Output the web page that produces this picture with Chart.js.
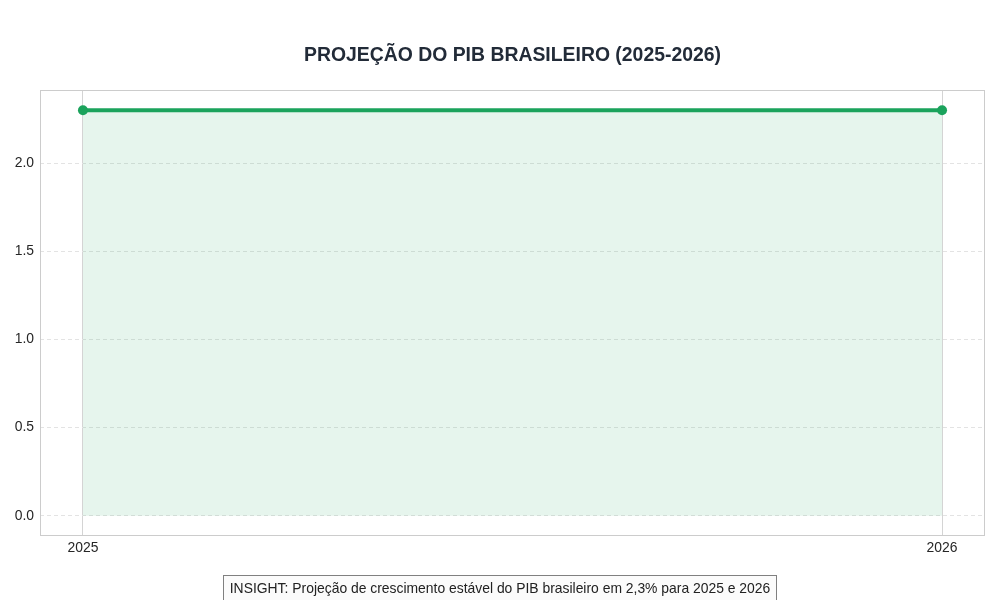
<!DOCTYPE html>
<html>
<head>
<meta charset="utf-8">
<script src="https://cdn.jsdelivr.net/npm/chart.js@4.4.1/dist/chart.umd.min.js"></script>
<style>
html,body{margin:0;padding:0;background:#fff;}
#wrap{width:1000px;height:600px;position:relative;}
</style>
</head>
<body>
<div id="wrap"><canvas id="c" width="1000" height="600"></canvas></div>
<script>
const years = [2025, 2026];
const gdpGrowth = [2.3, 2.3];
const yTicks = [0, 0.5, 1.0, 1.5, 2.0];
const titleText = 'PROJEÇÃO DO PIB BRASILEIRO (2025-2026)';
const insightText = 'INSIGHT: Projeção de crescimento estável do PIB brasileiro em 2,3% para 2025 e 2026';

const FONT = '"Liberation Sans", Arial, sans-serif';
const GREEN = '#1ba35c';

const decor = {
  id: 'decor',
  beforeDraw(chart) {
    const ctx = chart.ctx;
    ctx.save();
    ctx.fillStyle = '#fff';
    ctx.fillRect(0, 0, chart.width, chart.height);
    ctx.restore();
  },
  afterDraw(chart) {
    const ctx = chart.ctx;
    const a = chart.chartArea;
    ctx.save();
    ctx.strokeStyle = '#cccccc';
    ctx.lineWidth = 1;
    ctx.strokeRect(Math.round(a.left) + 0.5, Math.round(a.top) + 0.5, Math.round(a.right - a.left) - 1, Math.round(a.bottom - a.top) - 1);
    // title
    ctx.fillStyle = '#222b38';
    ctx.font = 'bold 19.4px ' + FONT;
    ctx.textAlign = 'center';
    ctx.textBaseline = 'middle';
    ctx.fillText(titleText, 512.5, 56);
    // insight box
    ctx.font = '13.9px ' + FONT;
    const w = ctx.measureText(insightText).width;
    const cx = 500, cy = 589;
    const bw = w + 13, bh = 26;
    ctx.fillStyle = '#fbfbfb';
    ctx.fillRect(Math.round(cx - bw / 2) + 0.5, 575.5, Math.round(bw), bh);
    ctx.strokeStyle = '#808080';
    ctx.strokeRect(Math.round(cx - bw / 2) + 0.5, 575.5, Math.round(bw), bh);
    ctx.fillStyle = '#222';
    ctx.textAlign = 'center';
    ctx.fillText(insightText, cx, cy);
    ctx.restore();
  }
};

new Chart(document.getElementById('c'), {
  type: 'line',
  data: {
    datasets: [{
      data: years.map((y, i) => ({ x: y, y: gdpGrowth[i] })),
      borderColor: GREEN,
      backgroundColor: 'rgba(27,163,92,0.11)',
      borderWidth: 4,
      pointRadius: 5,
      pointBackgroundColor: GREEN,
      pointBorderColor: GREEN,
      pointBorderWidth: 0,
      fill: 'origin',
      tension: 0
    }]
  },
  options: {
    responsive: false,
    animation: false,
    devicePixelRatio: 1,
    layout: { padding: { left: 0, right: 15, top: 90, bottom: 34 } },
    plugins: { legend: { display: false }, tooltip: { enabled: false }, title: { display: false } },
    scales: {
      x: {
        type: 'linear',
        min: 2024.95,
        max: 2026.05,
        afterBuildTicks(scale) { scale.ticks = years.map(v => ({ value: v })); },
        afterFit(scale) { scale.height = 30; },
        ticks: {
          color: '#262626',
          font: { family: FONT, size: 13.9 },
          padding: 4,
          maxRotation: 0,
          autoSkip: false,
          callback: v => String(v)
        },
        grid: { color: '#d4d4d4', lineWidth: 1, drawTicks: false },
        border: { display: false }
      },
      y: {
        min: -0.115,
        max: 2.415,
        afterBuildTicks(scale) { scale.ticks = yTicks.map(v => ({ value: v })); },
        afterFit(scale) { scale.width = 40; },
        ticks: {
          color: '#262626',
          font: { family: FONT, size: 13.9 },
          padding: 6,
          callback: v => v.toFixed(1)
        },
        grid: { color: '#e3e3e3', lineWidth: 1, drawTicks: false },
        border: { display: false, dash: [4, 3] }
      }
    }
  },
  plugins: [decor]
});
</script>
</body>
</html>
